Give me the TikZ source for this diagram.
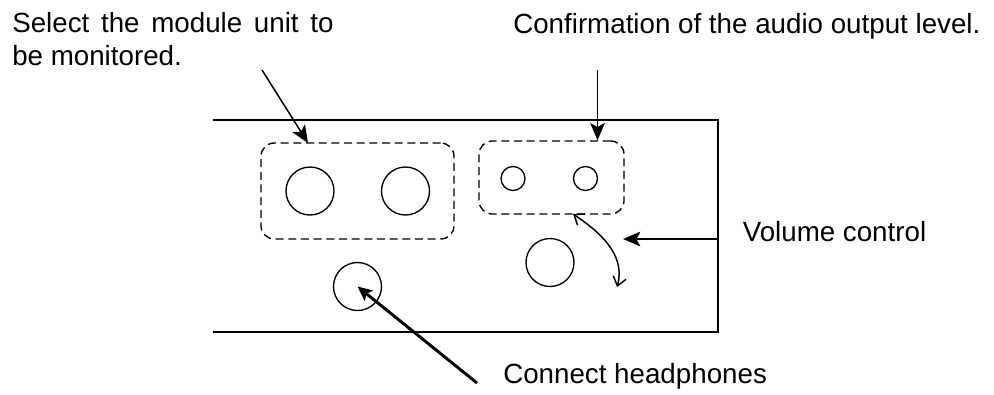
\documentclass[tikz,border=0pt]{standalone}
\usepackage{fontspec}
\setmainfont{Liberation Sans}
\usetikzlibrary{arrows.meta}
\begin{document}
\begin{tikzpicture}[x=0.75pt,y=-0.75pt,
  panel/.style={line width=1.1pt},
  dbox/.style={draw,dashed,dash pattern=on 6pt off 3.5pt,line width=1pt,rounded corners=10pt,inner sep=0pt},
  knob/.style={draw,circle,line width=1pt,inner sep=0pt},
  lbl/.style={inner sep=0pt,anchor=base west,font=\fontsize{20.8}{25}\selectfont},
  arr/.style={line width=1.1pt,-{Stealth[length=13pt,width=11pt,inset=3pt]}},
  thickarr/.style={line width=2.2pt,-{Stealth[length=11pt,width=10pt,inset=2.5pt]}},
  barb/.style={line width=1.1pt,{Straight Barb[length=6.5pt,width=10pt]}-{Straight Barb[length=6.5pt,width=10pt]}}]
\useasboundingbox (0,0) rectangle (994,394);
% panel
\draw[panel] (213,120) -- (718,120) -- (718,332) -- (213,332);
% boxes
\node[dbox,minimum width=144.75pt,minimum height=72pt] (selbox) at (357.5,191) {};
\node[dbox,minimum width=108.75pt,minimum height=54.75pt] (confbox) at (551.5,177.5) {};
% knobs
\node[knob,minimum size=36pt] (mod1) at (310,191) {};
\node[knob,minimum size=36pt] (mod2) at (405.5,191) {};
\node[knob,minimum size=18pt] (led1) at (513,178.5) {};
\node[knob,minimum size=18pt] (led2) at (585.5,178.5) {};
\node[knob,minimum size=36pt] (vol) at (550,262.5) {};
\node[knob,minimum size=36pt] (jack) at (357.5,286.5) {};
% labels
\node[lbl] (t1) at (12,32) {\makebox[241pt][s]{Select the module unit to}};
\node[lbl] (t2) at (12,65) {be monitored.};
\node[lbl] (t3) at (513,33) {Confirmation of the audio output level.};
\node[lbl] (t4) at (742.5,241.5) {Volume control};
\node[lbl] (t5) at (503,383) {Connect headphones};
% arrows
\coordinate (s1) at (262,70);
\coordinate (s2) at (308,143);
\draw[arr] (s1) -- (s2);
\coordinate (c1) at (597.5,70);
\draw[arr] (c1) -- (c1 |- confbox.north);
\coordinate (v1) at (718,239);
\coordinate (v2) at (623,239);
\draw[arr] (v1) -- (v2);
\coordinate (cv1) at (573,214);
\coordinate (cv2) at (617,287);
\draw[barb] (cv1) .. controls (600,232) and (626,255) .. (cv2);
\coordinate (h1) at (477,383);
\draw[thickarr] (h1) -- (jack.center);
\end{tikzpicture}
\end{document}
